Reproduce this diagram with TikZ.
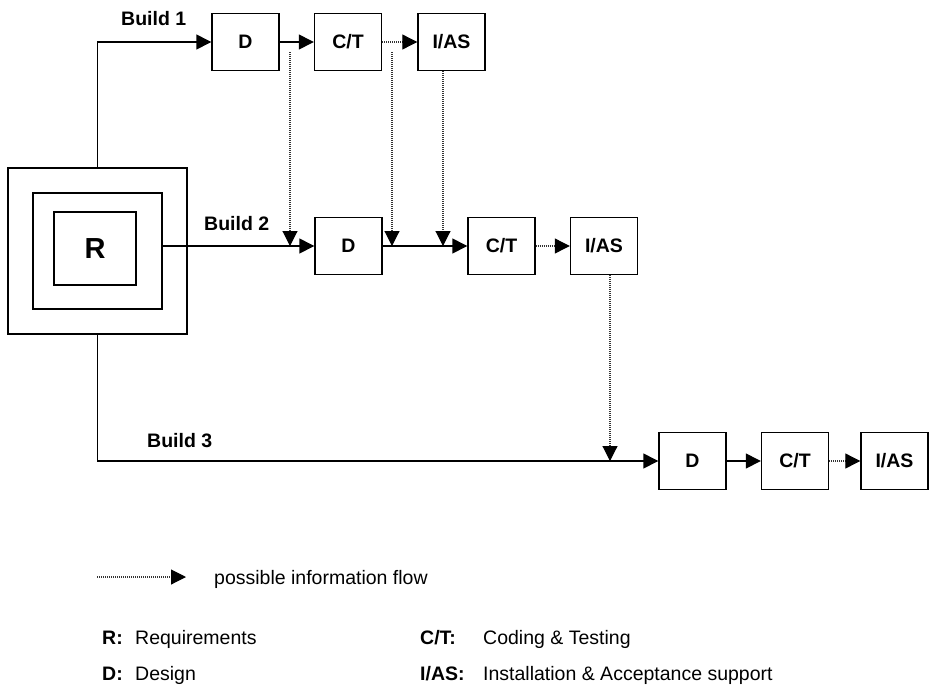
\documentclass[tikz,border=0pt]{standalone}
\usepackage{fontspec}
\setmainfont{Liberation Sans}
\usetikzlibrary{arrows.meta}
\begin{document}
\begin{tikzpicture}[x=1pt,y=-1pt,
  frame/.style={draw,line width=1.4pt,inner sep=0pt},
  box/.style={frame,minimum width=67pt,minimum height=57pt,font=\fontsize{19.5}{22}\selectfont\bfseries},
  flow/.style={line width=1.4pt,-{Triangle[length=15pt,width=15pt]}},
  info/.style={line width=1.1pt,dash pattern=on 1pt off 1pt,draw=black!80,-{Triangle[length=15pt,width=15pt,black]}},
  lbl/.style={inner sep=0pt,anchor=base west,font=\fontsize{19.5}{22}\selectfont\bfseries},
  txt/.style={inner sep=0pt,anchor=base west,font=\fontsize{19.5}{22}\selectfont}]
\useasboundingbox (0,0) rectangle (929,686);

% requirements boxes
\node[frame,minimum width=179pt,minimum height=166pt] (outer) at (97.5,251) {};
\node[frame,minimum width=129pt,minimum height=116pt] (mid) at (97.5,251) {};
\node[frame,minimum width=82pt,minimum height=73pt,font=\fontsize{29}{32}\selectfont\bfseries] (R) at (95,248.5) {R};

% build 1
\node[box] (D1) at (245.5,42) {D};
\node[box] (C1) at (348,42) {C/T};
\node[box] (I1) at (451.5,42) {I/AS};
% build 2
\node[box] (D2) at (348.5,246) {D};
\node[box] (C2) at (501.5,246) {C/T};
\node[box] (I2) at (604,246) {I/AS};
% build 3
\node[box] (D3) at (692.5,461) {D};
\node[box] (C3) at (795,461) {C/T};
\node[box] (I3) at (894.5,461) {I/AS};

% build labels
\node[lbl] (b1) at (121,25) {Build 1};
\node[lbl] (b2) at (204,230) {Build 2};
\node[lbl] (b3) at (147,447) {Build 3};

% main flows
\draw[flow] (outer.north) |- (D1.west);
\draw[flow] (D1.east) -- (C1.west);
\draw[info] (C1.east) -- (I1.west);
\draw[flow] (mid.east |- D2.west) -- (D2.west);
\draw[flow] (D2.east) -- (C2.west);
\draw[info] (C2.east) -- (I2.west);
\draw[flow] (outer.south) |- (D3.west);
\draw[flow] (D3.east) -- (C3.west);
\draw[info] (C3.east) -- (I3.west);

% information flows between builds
\coordinate (s1) at (290,52);
\coordinate (s2) at (392,52);
\coordinate (s3) at ([xshift=-8.5pt]I1.south);
\coordinate (s4) at ([xshift=6pt]I2.south);
\draw[info] (s1) -- (s1 |- D2.west);
\draw[info] (s2) -- (s2 |- D2.west);
\draw[info] (s3) -- (s3 |- D2.west);
\draw[info] (s4) -- (s4 |- D3.west);

% legend
\coordinate (l1) at (97,577);
\coordinate (l2) at (186,577);
\draw[info] (l1) -- (l2);
\node[txt] (lt) at (214,584) {possible information flow};

\node[lbl] (kR) at (102,644) {R:};
\node[txt] (tR) at (135,644) {Requirements};
\node[lbl] (kD) at (102,680) {D:};
\node[txt] (tD) at (135,680) {Design};
\node[lbl] (kC) at (420,644) {C/T:};
\node[txt] (tC) at (483,644) {Coding \& Testing};
\node[lbl] (kI) at (420,680) {I/AS:};
\node[txt] (tI) at (483,680) {Installation \& Acceptance support};
\end{tikzpicture}
\end{document}
